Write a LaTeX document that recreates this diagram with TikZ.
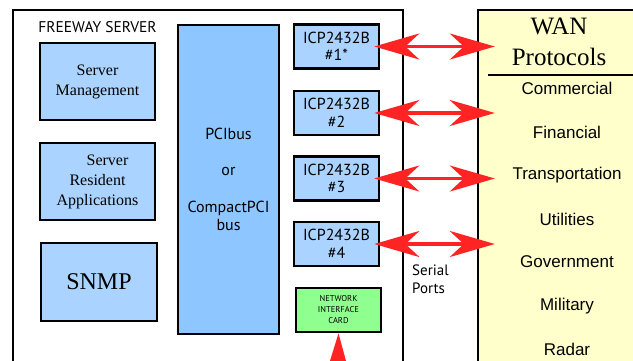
\documentclass[tikz,border=0pt]{standalone}
\usepackage{fontspec}
\setmainfont{Liberation Serif}
\newfontfamily\pts{PT Sans}
\newfontfamily\ars{Liberation Sans}
\usetikzlibrary{arrows.meta}
\definecolor{lblue}{HTML}{AAD4FF}
\definecolor{dblue}{HTML}{8EC6FF}
\definecolor{lyellow}{HTML}{FFFFCC}
\definecolor{lgreen}{HTML}{8FFF8F}
\definecolor{ared}{HTML}{FF2424}
\begin{document}
\begin{tikzpicture}[x=1pt,y=-1pt,
  box/.style={draw=black,line width=2.6pt,fill=lblue,inner sep=0pt,align=center},
  serifbox/.style={box,font=\fontsize{16}{20}\selectfont},
  icpbox/.style={box,minimum width=85pt,minimum height=44pt,font=\pts\fontsize{16}{17.5}\selectfont},
  dblarrow/.style={draw=ared,line width=3.2pt,
    {Stealth[length=45pt,width=26pt,inset=14pt]}-{Stealth[length=45pt,width=26pt,inset=14pt]},
    shorten <=-6pt, shorten >=-18pt},
  uparrow/.style={draw=ared,line width=3.2pt,-{Stealth[length=45pt,width=26pt,inset=14pt]}},
  item/.style={font=\ars\fontsize{17}{20}\selectfont,inner sep=0pt}
]
\useasboundingbox (0,0) rectangle (633,360);
\clip (0,0) rectangle (633,360);
\fill[white] (0,0) rectangle (633,360);

% containers
\node[draw=black,line width=2pt,minimum width=390pt,minimum height=360pt,inner sep=0pt] (server) at (208,190) {};
\node[draw=black,line width=2.4pt,fill=lyellow,minimum width=172pt,minimum height=360pt,inner sep=0pt] (wan) at (564,190) {};

\node[font=\pts\fontsize{15.5}{17}\selectfont,inner sep=0pt] (title) at (97.5,27) {FREEWAY SERVER};

% left boxes
\node[serifbox,minimum width=115pt,minimum height=77pt] (mgmt) at (97.5,81.5) {Server\\Management};
\node[serifbox,minimum width=115pt,minimum height=77pt] (resident) at (97.5,181.5) {\hspace*{20pt}Server\\Resident\\Applications};
\node[box,minimum width=116pt,minimum height=78pt,font=\fontsize{24}{28}\selectfont] (snmp) at (99,282) {SNMP};

% bus
\node[box,fill=dblue,minimum width=101pt,minimum height=309pt,font=\pts\fontsize{16}{18.3}\selectfont] (pci) at (228.5,179.5) {PCIbus\\[18.3pt]or\\[18.3pt]CompactPCI\\bus};

% ICP cards
\node[icpbox] (icp1) at (336.5,46.5) {ICP2432B\\\#1*};
\node[icpbox] (icp2) at (336.5,113) {ICP2432B\\\#2};
\node[icpbox] (icp3) at (336.5,178.5) {ICP2432B\\\#3};
\node[icpbox] (icp4) at (336.5,244) {ICP2432B\\\#4};
\node[box,fill=lgreen,minimum width=85pt,minimum height=44pt,font=\pts\fontsize{8.5}{11}\selectfont] (nic) at (338.5,310) {NETWORK\\INTERFACE\\CARD};

\node[font=\pts\fontsize{15}{18}\selectfont,align=left,inner sep=0pt,anchor=west] (serial) at (412,279) {Serial\\Ports};

% WAN box contents
\node[font=\fontsize{25}{31}\selectfont,align=center,inner sep=0pt] (wantitle) at (559,42) {WAN\\Protocols};
\coordinate (ruleL) at (488,75);
\coordinate (ruleR) at (640,75);
\draw[line width=2pt] (ruleL) -- (ruleR);
\node[item] (i1) at (567,88) {Commercial};
\node[item] (i2) at (567,132) {Financial};
\node[item] (i3) at (567,175) {Transportation};
\node[item] (i4) at (567,219) {Utilities};
\node[item] (i5) at (567,262) {Government};
\node[item] (i6) at (567,306) {Military};
\node[item] (i7) at (567,349) {Radar};

% arrows
\draw[dblarrow] (icp1.east) -- (icp1.east -| wan.west);
\draw[dblarrow] (icp2.east) -- (icp2.east -| wan.west);
\draw[dblarrow] (icp3.east) -- (icp3.east -| wan.west);
\draw[dblarrow] (icp4.east) -- (icp4.east -| wan.west);
\coordinate (nicfeed) at (337,420);
\draw[uparrow] (nicfeed) -- (nic.south);
\end{tikzpicture}
\end{document}
